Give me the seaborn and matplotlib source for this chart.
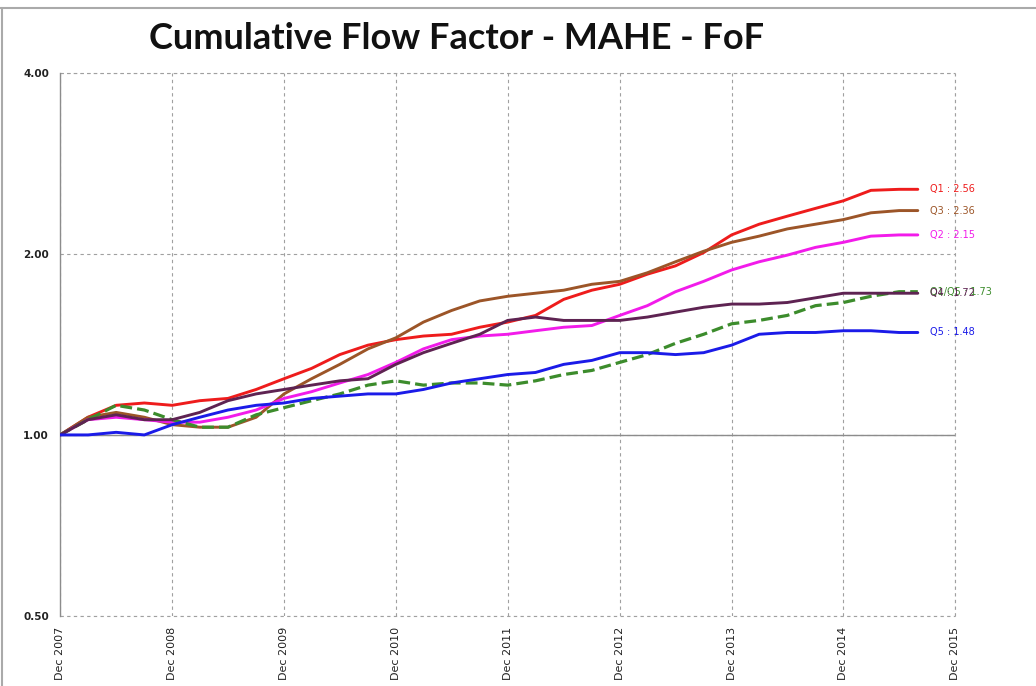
import numpy as np
import pandas as pd
import matplotlib
matplotlib.use("Agg")
import matplotlib.pyplot as plt
from matplotlib.ticker import FixedLocator, FuncFormatter, NullLocator
from matplotlib.lines import Line2D
import seaborn as sns

# Datos (cada 3 meses, ultimo punto Ago 2015)
dates = ["2007-12", "2008-03", "2008-06", "2008-09", "2008-12", "2009-03", "2009-06", "2009-09",
         "2009-12", "2010-03", "2010-06", "2010-09", "2010-12", "2011-03", "2011-06", "2011-09",
         "2011-12", "2012-03", "2012-06", "2012-09", "2012-12", "2013-03", "2013-06", "2013-09",
         "2013-12", "2014-03", "2014-06", "2014-09", "2014-12", "2015-03", "2015-06", "2015-08"]

q1 = [1.00, 1.07, 1.12, 1.13, 1.12, 1.14, 1.15, 1.19, 1.24, 1.29, 1.36, 1.41, 1.44, 1.46, 1.47, 1.51,
      1.54, 1.58, 1.68, 1.74, 1.78, 1.85, 1.91, 2.01, 2.15, 2.24, 2.31, 2.38, 2.45, 2.55, 2.56, 2.56]
q3 = [1.00, 1.07, 1.09, 1.07, 1.04, 1.03, 1.03, 1.07, 1.17, 1.24, 1.31, 1.39, 1.45, 1.54, 1.61, 1.67,
      1.70, 1.72, 1.74, 1.78, 1.80, 1.86, 1.94, 2.02, 2.09, 2.14, 2.20, 2.24, 2.28, 2.34, 2.36, 2.36]
q2 = [1.00, 1.06, 1.07, 1.06, 1.05, 1.05, 1.07, 1.10, 1.15, 1.18, 1.22, 1.26, 1.32, 1.39, 1.44, 1.46,
      1.47, 1.49, 1.51, 1.52, 1.58, 1.64, 1.73, 1.80, 1.88, 1.94, 1.99, 2.05, 2.09, 2.14, 2.15, 2.15]
q4 = [1.00, 1.06, 1.08, 1.06, 1.06, 1.09, 1.14, 1.17, 1.19, 1.21, 1.23, 1.24, 1.31, 1.37, 1.42, 1.47,
      1.55, 1.57, 1.55, 1.55, 1.55, 1.57, 1.60, 1.63, 1.65, 1.65, 1.66, 1.69, 1.72, 1.72, 1.72, 1.72]
q5 = [1.00, 1.00, 1.01, 1.00, 1.04, 1.07, 1.10, 1.12, 1.13, 1.15, 1.16, 1.17, 1.17, 1.19, 1.22, 1.24,
      1.26, 1.27, 1.31, 1.33, 1.37, 1.37, 1.36, 1.37, 1.41, 1.47, 1.48, 1.48, 1.49, 1.49, 1.48, 1.48]
q1_q5 = [1.00, 1.06, 1.12, 1.10, 1.06, 1.03, 1.03, 1.08, 1.11, 1.14, 1.17, 1.21, 1.23, 1.21, 1.22, 1.22,
         1.21, 1.23, 1.26, 1.28, 1.32, 1.36, 1.42, 1.47, 1.53, 1.55, 1.58, 1.64, 1.66, 1.70, 1.73, 1.73]

# (nombre, valores, color, estilo, etiqueta)
series = [
    ("Q1", q1, "#EE1C1C", "-", "Q1 : 2.56"),
    ("Q3", q3, "#9C5528", "-", "Q3 : 2.36"),
    ("Q2", q2, "#F21BEA", "-", "Q2 : 2.15"),
    ("Q1/Q5", q1_q5, "#3C8C2C", "--", "Q1/Q5 : 1.73"),
    ("Q4", q4, "#5E2352", "-", "Q4 : 1.72"),
    ("Q5", q5, "#1B1BE8", "-", "Q5 : 1.48"),
]

x = pd.to_datetime(dates, format="%Y-%m")

sns.set_style("white")
plt.rcParams["font.family"] = ["DejaVu Sans"]

fig = plt.figure(figsize=(10.36, 6.86), dpi=100)
ax = fig.add_axes([0.058, 0.102, 0.864, 0.792])

for name, vals, color, ls, label in series:
    df = pd.DataFrame({"fecha": x, "valor": vals})
    sns.lineplot(data=df, x="fecha", y="valor", ax=ax, color=color, linestyle=ls,
                 linewidth=2.1 if ls == "-" else 2.3, zorder=3)
    ax.annotate(label, xy=(x[-1], vals[-1]), xytext=(9, 0), textcoords="offset points",
                va="center", ha="left", fontsize=7, color=color)

ax.set_yscale("log", base=2)
ax.set_ylim(0.5, 4.0)
ax.yaxis.set_major_locator(FixedLocator([0.5, 1.0, 2.0, 4.0]))
ax.yaxis.set_minor_locator(NullLocator())
ax.yaxis.set_major_formatter(FuncFormatter(lambda v, p: f"{v:.2f}"))

years = list(range(2007, 2016))
ticks = [pd.Timestamp(f"{y}-12-01") for y in years]
ax.set_xlim(ticks[0], ticks[-1])
ax.set_xticks(ticks)
ax.set_xticklabels([f"Dec {y}" for y in years], rotation=90, fontsize=8)
for t in ax.get_yticklabels():
    t.set_fontsize(7.5)
    t.set_fontweight("bold")
ax.tick_params(axis="both", length=0, pad=8, colors="#222222")
ax.set_xlabel("")
ax.set_ylabel("")

# cuadricula punteada
ax.grid(True, axis="both", linestyle=(0, (3, 3)), color="#A0A0A0", linewidth=0.8)
ax.axhline(1.0, color="#8C8C8C", linewidth=1.0, zorder=2)
for s in ["top", "right", "bottom"]:
    ax.spines[s].set_visible(False)
ax.spines["left"].set_color("#8C8C8C")
ax.spines["left"].set_linewidth(1.0)
ax.axhline(0.5, color="#A0A0A0", linestyle=(0, (3, 3)), linewidth=0.8, clip_on=False)
ax.axhline(4.0, color="#A0A0A0", linestyle=(0, (3, 3)), linewidth=0.8, clip_on=False)
ax.axvline(ticks[-1], color="#A0A0A0", linestyle=(0, (3, 3)), linewidth=0.8, clip_on=False)

fig.text(0.441, 0.944, "Cumulative Flow Factor - MAHE - FoF", ha="center", va="center",
         fontsize=26, fontweight="bold", family=["Lato", "DejaVu Sans"], color="#111111")

# marco de la imagen
fig.add_artist(Line2D([0, 1], [0.988, 0.988], color="#AAAAAA", linewidth=1.5))
fig.add_artist(Line2D([0.002, 0.002], [0, 0.988], color="#AAAAAA", linewidth=1.5))

fig.savefig("out.png", dpi=100)
